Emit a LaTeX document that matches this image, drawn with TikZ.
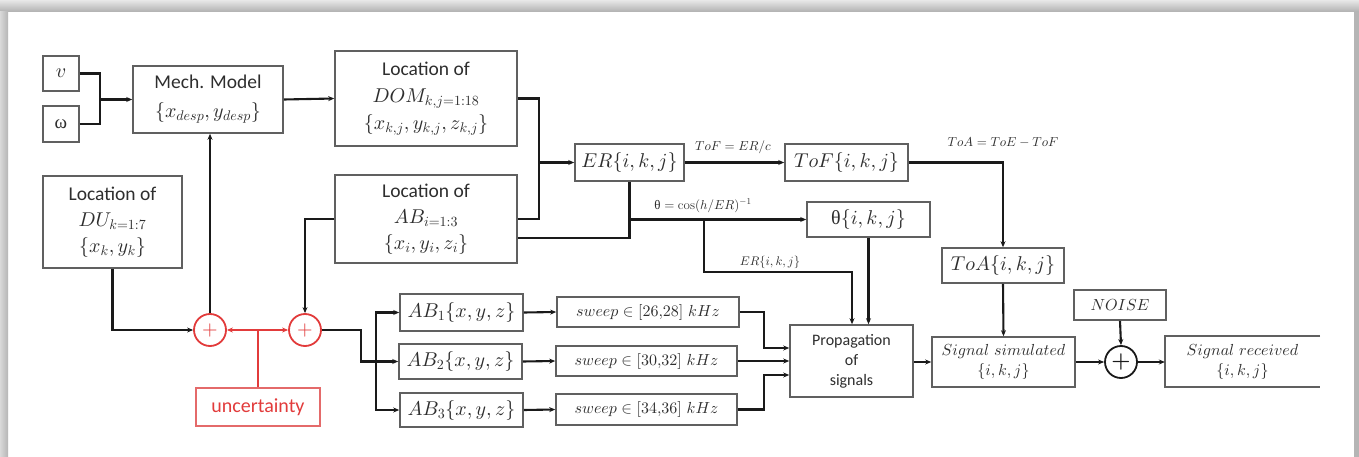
\documentclass[tikz,border=0pt]{standalone}
\usepackage{fontspec}
\DeclareFontShape{OML}{cmm}{m}{it}{<->cmmi10}{}
\DeclareFontShape{OMS}{cmsy}{m}{n}{<->cmsy10}{}
\DeclareFontShape{OT1}{cmr}{m}{n}{<->cmr10}{}
\DeclareFontShape{OMX}{cmex}{m}{n}{<->cmex10}{}
\newfontfamily\carl{Carlito}
\newfontfamily\lserif{Liberation Serif}
\usetikzlibrary{arrows.meta,calc}
\definecolor{txt}{HTML}{2E2E2E}
\definecolor{bord}{HTML}{606060}
\definecolor{wirec}{HTML}{1A1A1A}
\definecolor{rd}{HTML}{E23B3B}
\definecolor{rdb}{HTML}{E46A6A}
\begin{document}
\begin{tikzpicture}[x=1pt,y=-1pt,
  box/.style={draw=bord, line width=1.6pt, text=txt, inner sep=0pt, align=center,
    font=\fontsize{20}{28}\selectfont},
  smallbox/.style={box, font=\fontsize{16}{20}\selectfont},
  wire/.style={draw=wirec, line width=2.1pt},
  arr/.style={wire, -{Stealth[length=6pt,width=5pt]}},
  rwire/.style={draw=rd, line width=2pt},
  rarr/.style={rwire, -{Stealth[length=6pt,width=5pt]}},
  lbl/.style={text=txt, inner sep=0pt, font=\fontsize{13}{15}\selectfont},
  plusc/.style={circle, draw=rd, line width=1.8pt, minimum size=32pt, inner sep=0pt,
    text=rd, font=\fontsize{20}{20}\selectfont}
]
% frame
\useasboundingbox (0,0) rectangle (1359,457);
\fill[white] (0,0) rectangle (1359,457);
\shade[top color=gray!18, bottom color=gray!62] (0,0) rectangle (1359,12);
\shade[left color=gray!30, right color=gray!58] (0,12) rectangle (8,457);
\fill[gray!58] (1354,12) rectangle (1359,457);

% nodes
\node[box, minimum width=36pt, minimum height=35pt] (v) at (61,73.5) {$v$};
\node[box, minimum width=36pt, minimum height=36pt] (w) at (61,124) {{\lserif\fontsize{19}{20}\selectfont ω}};
\node[box, minimum width=150pt, minimum height=67pt] (mech) at (208,99.5)
  {{\carl\fontsize{19.5}{28}\selectfont Mech. Model}\\[1pt]$\{x_{desp},y_{desp}\}$};
\node[box, minimum width=182pt, minimum height=95pt] (dom) at (426,98.5)
  {{\carl\fontsize{19.5}{28}\selectfont Location of}\\[-1pt]$DOM_{k,j=1:18}$\\[-1pt]$\{x_{k,j},y_{k,j},z_{k,j}\}$};
\node[box, minimum width=182pt, minimum height=88pt] (ab) at (426,219)
  {{\carl\fontsize{19.5}{28}\selectfont Location of}\\[-2pt]$AB_{i=1:3}$\\[-2pt]$\{x_i,y_i,z_i\}$};
\node[box, minimum width=139pt, minimum height=92pt] (du) at (112.5,222)
  {{\carl\fontsize{19.5}{28}\selectfont Location of}\\[-2pt]$DU_{k=1:7}$\\[-2pt]$\{x_k,y_k\}$};
\node[box, minimum width=109pt, minimum height=37pt] (er) at (629.5,162.5) {$ER\{i,k,j\}$};
\node[box, minimum width=123pt, minimum height=37pt] (tof) at (846.5,162.5) {$ToF\{i,k,j\}$};
\node[box, minimum width=123pt, minimum height=35pt] (theta) at (868.5,219.5) {{\lserif θ}$\{i,k,j\}$};
\node[box, minimum width=122pt, minimum height=35pt] (toa) at (1003,265.5) {$ToA\{i,k,j\}$};

\node[box, minimum width=123pt, minimum height=37pt] (ab1) at (461.5,312.5) {$AB_1\{x,y,z\}$};
\node[box, minimum width=123pt, minimum height=35pt] (ab2) at (460.5,361.5) {$AB_2\{x,y,z\}$};
\node[box, minimum width=123pt, minimum height=34pt] (ab3) at (461.5,410) {$AB_3\{x,y,z\}$};
\node[smallbox, minimum width=182pt, minimum height=30pt] (sw1) at (648,312) {$sweep\in[26{,}28]\ kHz$};
\node[smallbox, minimum width=181pt, minimum height=30pt] (sw2) at (646.5,361) {$sweep\in[30{,}32]\ kHz$};
\node[smallbox, minimum width=181pt, minimum height=31pt] (sw3) at (646.5,409.5) {$sweep\in[34{,}36]\ kHz$};

\node[smallbox, minimum width=123pt, minimum height=72pt] (prop) at (851.5,361)
  {{\carl Propagation}\\{\carl of}\\{\carl signals}};
\node[smallbox, minimum width=143pt, minimum height=50pt] (sigsim) at (1003.5,362)
  {$Signal\ simulated$\\$\{i,k,j\}$};
\node[smallbox, minimum width=92pt, minimum height=30pt] (noise) at (1120,305) {$NOISE$};
\node[circle, draw=wirec, line width=1.8pt, minimum size=32pt, inner sep=0pt, text=wirec,
  font=\fontsize{22}{22}\selectfont\bfseries] (p3) at (1121,362) {+};
\node[text=txt, inner sep=0pt, align=center, minimum width=155pt, minimum height=51pt,
  font=\fontsize{16}{20}\selectfont] (sigrec) at (1242.5,361.5)
  {$Signal\ received$\\$\{i,k,j\}$};
\draw[draw=bord, line width=1.6pt] (sigrec.north east) -- (sigrec.north west)
  -- (sigrec.south west) -- (sigrec.south east);

\node[plusc] (p1) at (210,330) {$+$};
\node[plusc] (p2) at (305,330) {$+$};
\node[draw=rdb, line width=1.5pt, text=rd, inner sep=0pt, minimum width=124pt, minimum height=38pt,
  font=\carl\fontsize{20}{24}\selectfont] (unc) at (258,407) {uncertainty};

% labels
\node[lbl] (l1) at (733,147) {$ToF=ER/c$};
\node[lbl] (l2) at (703,206) {$\mbox{\lserif θ}=\cos(h/ER)^{-1}$};
\node[lbl] (l3) at (1003,143) {$ToA=ToE-ToF$};
\node[lbl, font=\fontsize{12.5}{14}\selectfont] (l4) at (770,262) {$ER\{i,k,j\}$};

% connectors
\coordinate (j1) at (100,99.5);
\draw[wire] (v.east) -| (j1);
\draw[wire] (w.east) -| (j1);
\draw[arr] (j1) -- (mech.west);
\draw[arr] (mech.east) -- (dom.west);
\coordinate (j2) at (539,162.5);
\draw[wire] (dom.east) -| (j2);
\draw[wire] (ab.east) -| (j2);
\draw[arr] (j2) -- (er.west);
\draw[wire] ($(ab.east)+(0,19)$) -| (er.south);
\draw[arr] (er.south |- theta.west) -- (theta.west);
\coordinate (b1) at (704,219.5);
\coordinate (k1) at (852,272);
\draw[arr] (b1) |- (k1) -- (k1 |- prop.north);
\draw[arr] (theta.south) -- (theta.south |- prop.north);
\draw[arr] (er.east) -- (tof.west);
\draw[arr] (tof.east) -| (toa.north);
\draw[arr] (toa.south) -- (sigsim.north);

\draw[arr] (du.south) |- (p1.west);
\draw[arr] (p1.north) -- (p1.north |- mech.south);
\draw[arr] (ab.west) -| (p2.north);
\coordinate (ju) at (unc.north |- p1.east);
\draw[rwire] (unc.north) -- (ju);
\draw[rarr] (ju) -- (p1.east);
\draw[rarr] (ju) -- (p2.west);

\coordinate (s1) at (361,330);
\draw[arr] (p2.east) -- (s1) |- (ab2.west);
\coordinate (s2) at (376,361.5);
\draw[arr] (s2) |- (ab1.west);
\draw[arr] (s2) |- (ab3.west);
\draw[arr] (ab1.east) -- (sw1.west);
\draw[arr] (ab2.east) -- (sw2.west);
\draw[arr] (ab3.east) -- (sw3.west);
\coordinate (m1) at (764,348);
\coordinate (m3) at (764,375);
\draw[arr] (sw1.east) -| (m1) -- (m1 -| prop.west);
\draw[arr] (sw2.east) -- (sw2.east -| prop.west);
\draw[arr] (sw3.east) -| (m3) -- (m3 -| prop.west);
\draw[arr] (prop.east |- sigsim.west) -- (sigsim.west);
\draw[arr] (sigsim.east) -- (p3.west);
\draw[arr] (noise.south) -- (p3.north);
\draw[arr] (p3.east) -- (p3.east -| sigrec.west);
\end{tikzpicture}
\end{document}
